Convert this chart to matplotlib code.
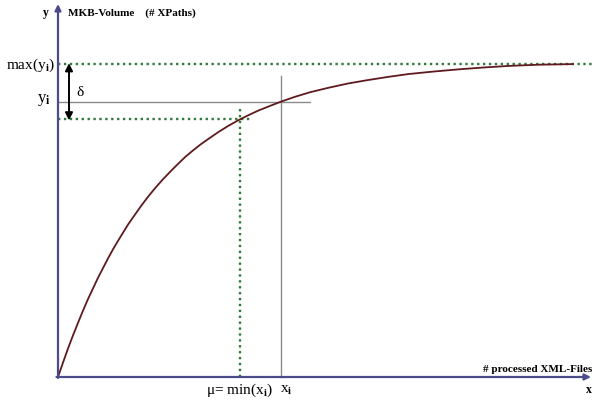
import matplotlib.pyplot as plt

plt.rcParams['font.family'] = ['Liberation Serif', 'DejaVu Serif']
plt.rcParams['mathtext.fontset'] = 'stix'

# saturation curve (x: processed files, y: volume, max = 100)
files = [0, 1, 2, 3, 4, 5, 6, 7, 8, 9, 10, 11, 12, 13, 14, 15, 16.5, 18,
         19.5, 21, 22.5, 24, 25.5, 27, 28.5, 30, 32, 34, 36, 38, 40, 42.5,
         44.6, 47.5, 50.4, 54, 58, 62, 66, 70, 75, 80, 85, 90, 96, 103]
volume = [0, 4.6, 9.1, 13.3, 17.3, 21.2, 24.9, 28.3, 31.7, 34.8, 37.9, 40.8,
          43.5, 46.1, 48.7, 51.0, 54.4, 57.6, 60.5, 63.2, 65.7, 68.1, 70.4,
          72.4, 74.3, 76.0, 78.2, 80.2, 82.0, 83.6, 85.1, 86.7, 88.0, 89.6,
          91.0, 92.4, 93.8, 94.9, 95.9, 96.8, 97.6, 98.3, 98.9, 99.4, 99.8,
          100.0]

y_max = 100.0
x_i, y_i = 44.6, 88.0
mu, y_mu = 36.4, 82.3

axis_col = '#4b4a8c'
green = '#2f7a3c'
grey = '#8a8a8a'
curve_col = '#5e1a1c'

fig = plt.figure(figsize=(5.93, 4.02), dpi=100)
ax = fig.add_axes([0, 0, 1, 1])
ax.set_xlim(-11.6, 107)
ax.set_ylim(-7.67, 120.8)
ax.set_axis_off()

# axes with arrows
ax.annotate('', xy=(0, 119.2), xytext=(0, -0.3),
            arrowprops=dict(arrowstyle='-|>', color=axis_col, lw=1.6,
                            mutation_scale=9, shrinkA=0, shrinkB=0))
ax.annotate('', xy=(106.6, 0), xytext=(-0.3, 0),
            arrowprops=dict(arrowstyle='-|>', color=axis_col, lw=1.6,
                            mutation_scale=9, shrinkA=0, shrinkB=0))

# guide lines
ax.plot([0, 107], [y_max, y_max], color=green, lw=1.7, dashes=(1, 1.5))
ax.plot([0, 38.6], [y_mu, y_mu], color=green, lw=1.7, dashes=(1, 1.5))
ax.plot([mu, mu], [0, 86.3], color=green, lw=1.7, dashes=(1, 1.5))
ax.plot([0, 50.4], [y_i, y_i], color=grey, lw=1.0)
ax.plot([x_i, x_i], [0, 96.2], color=grey, lw=1.0)

# curve
ax.plot(files, volume, color=curve_col, lw=1.3)

# delta arrow
ax.annotate('', xy=(2.2, y_mu - 0.3), xytext=(2.2, y_max + 0.3),
            arrowprops=dict(arrowstyle='<|-|>', color='black', lw=1.4,
                            mutation_scale=11, shrinkA=0, shrinkB=0))
ax.text(3.6, 91.2, 'δ', fontsize=11, ha='left', va='center')

# labels
ax.text(-2.4, 116.5, 'y', fontsize=8.5, fontweight='bold', ha='center', va='center')
ax.text(2.0, 116.5, 'MKB-Volume    (# XPaths)', fontsize=8, fontweight='bold',
        ha='left', va='center')
ax.text(-0.6, y_max, r'max(y$_{\mathbf{i}}$)', fontsize=11, ha='right', va='center')
ax.text(-2.8, y_i + 0.7, r'y$_{\mathbf{i}}$', fontsize=12, ha='center', va='center')
ax.text(106.8, 1.2, '# processed XML-Files', fontsize=8, fontweight='bold',
        ha='right', va='bottom')
ax.text(106.2, -3.9, 'x', fontsize=8.5, fontweight='bold', ha='center', va='center')
ax.text(mu, -3.9, r'μ= min(x$_{\mathbf{i}}$)', fontsize=11, ha='center', va='center')
ax.text(x_i + 1.0, -3.9, r'x$_{\mathbf{i}}$', fontsize=11, ha='center', va='center')

fig.savefig('out.png', dpi=100)
